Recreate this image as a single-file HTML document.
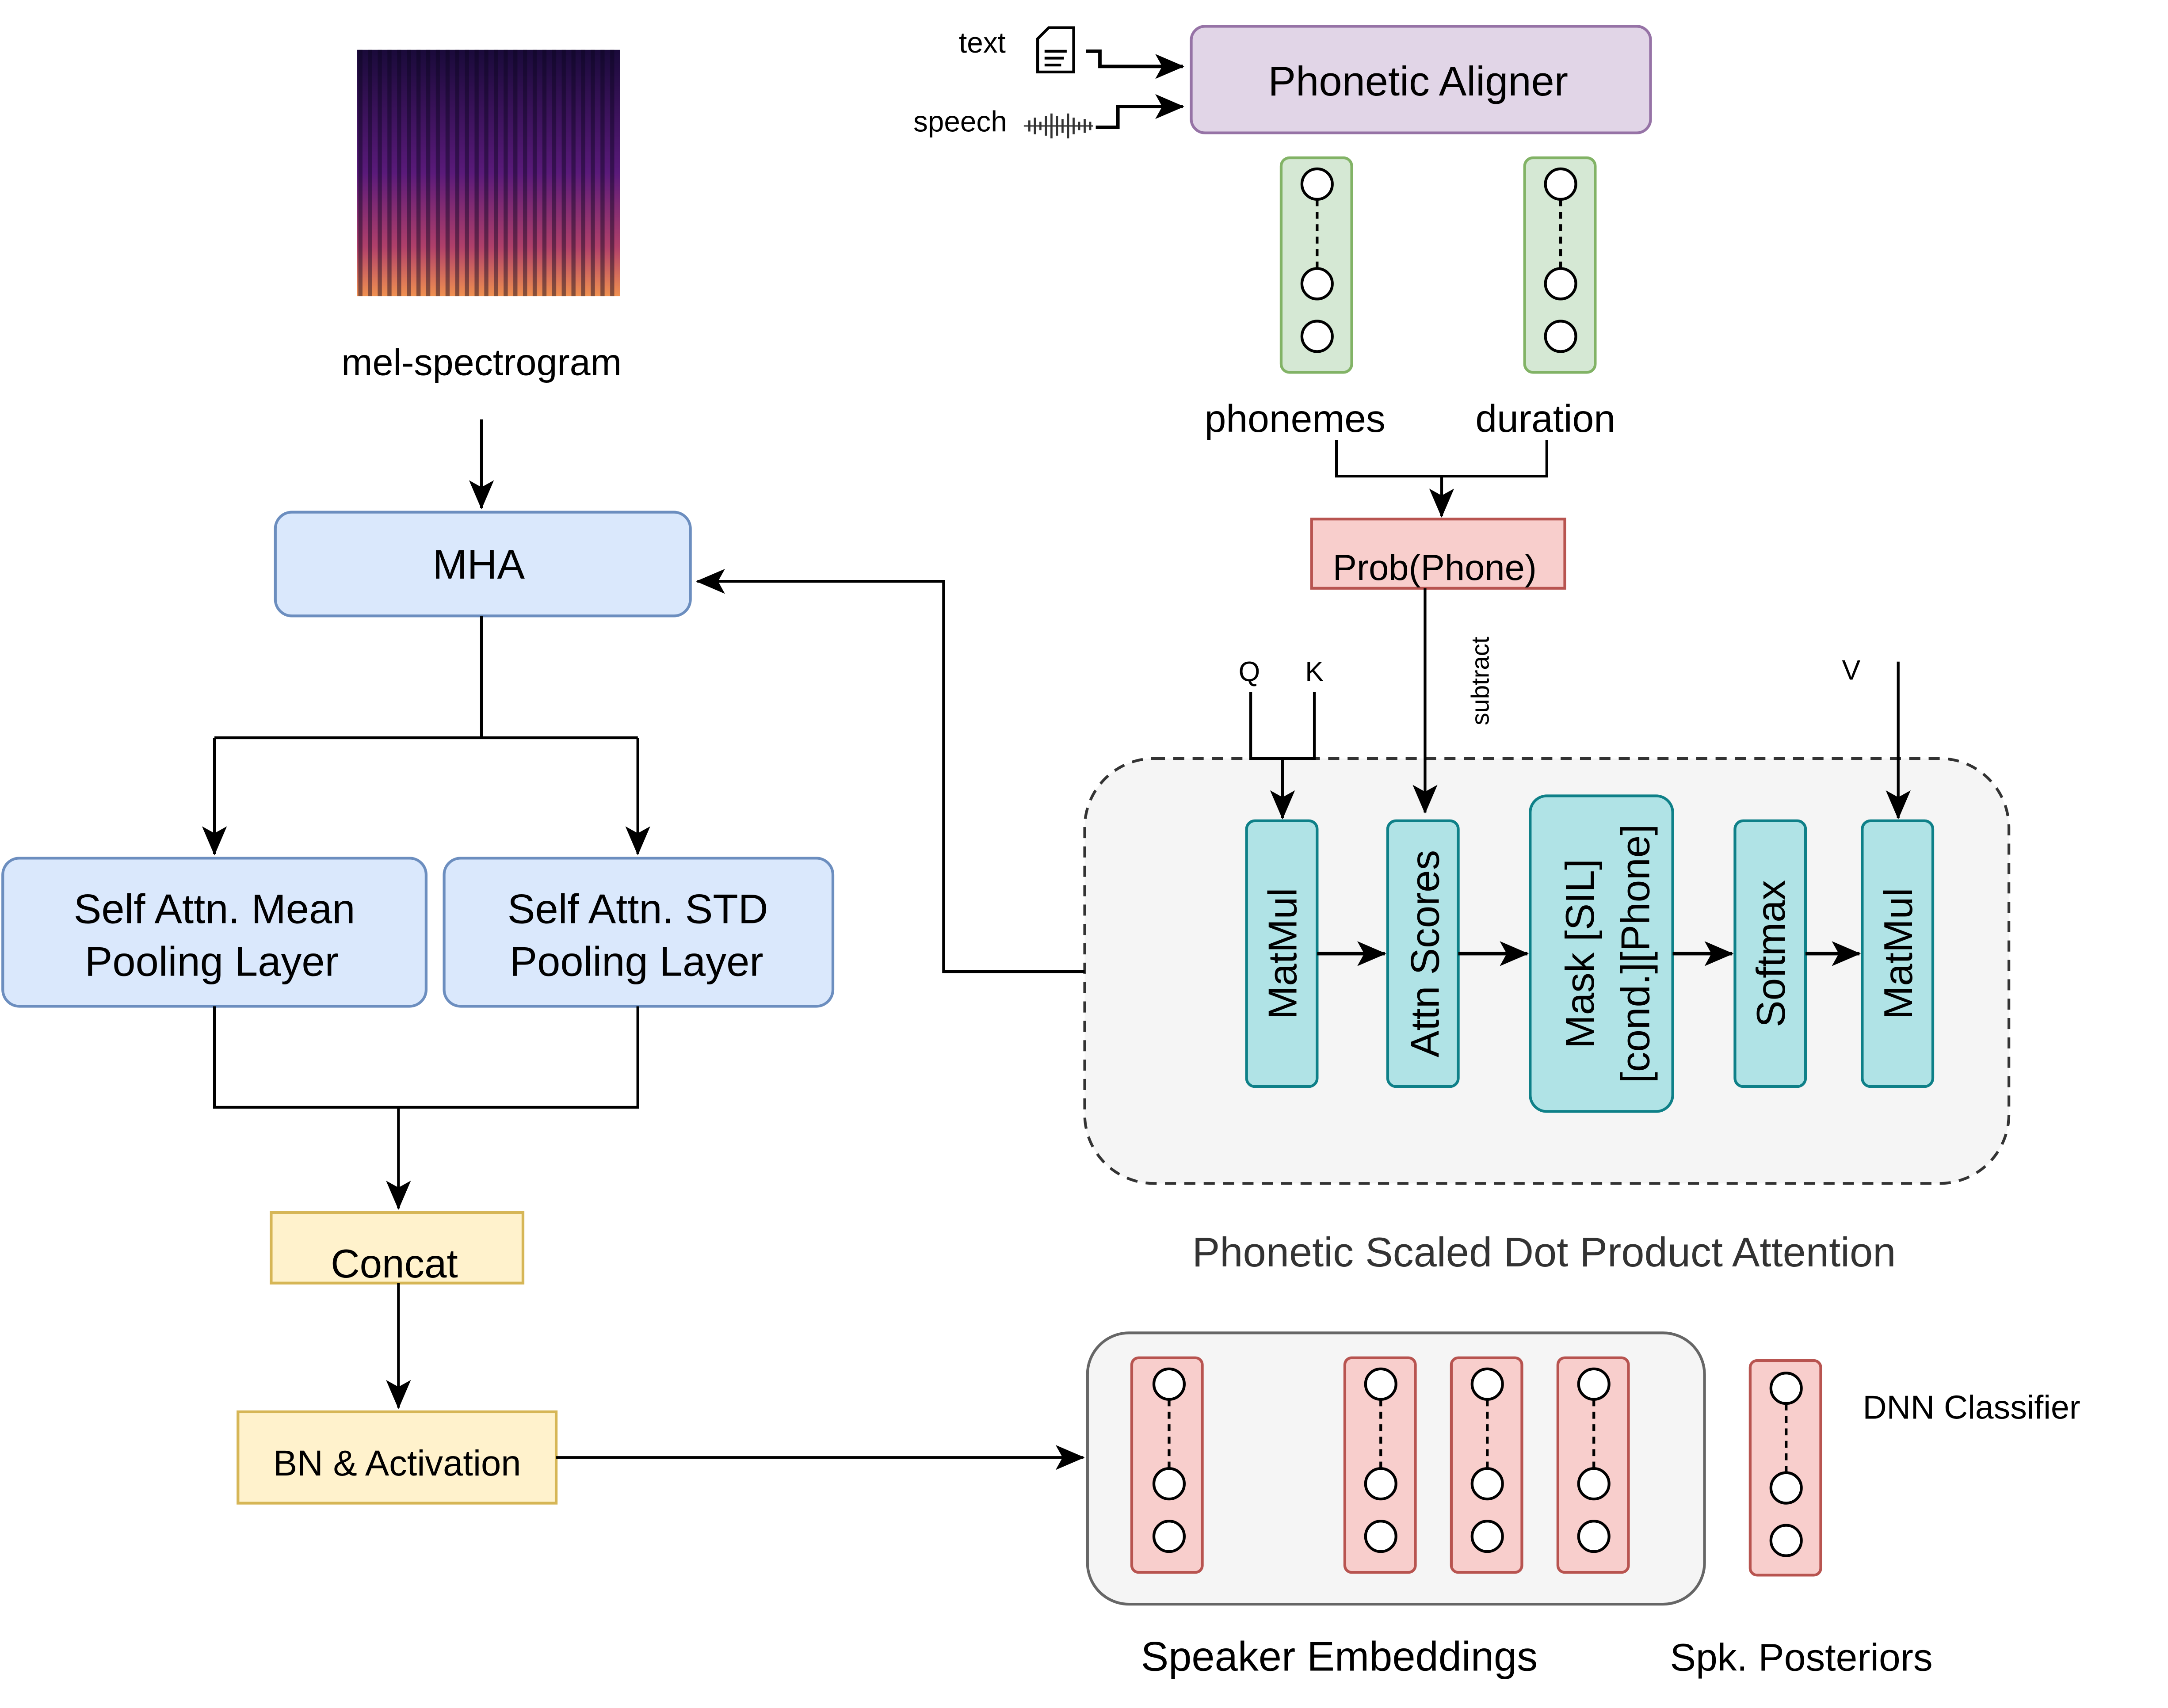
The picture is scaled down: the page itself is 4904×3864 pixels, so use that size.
<!DOCTYPE html>
<html><head><meta charset="utf-8"><style>html,body{margin:0;padding:0;background:#fff}svg{display:block}text{font-family:"Liberation Sans",sans-serif}</style></head><body>
<svg width="4904" height="3864" viewBox="0 0 1567 1234" preserveAspectRatio="none" xmlns="http://www.w3.org/2000/svg">
<defs>
<marker id="b" markerWidth="22" markerHeight="22" refX="20" refY="11" orient="auto" markerUnits="userSpaceOnUse"><path d="M0,2 L21,11 L0,20 L5,11 Z" fill="#000"/></marker>
<linearGradient id="sg" x1="0" y1="0" x2="0" y2="1"><stop offset="0" stop-color="#1a0a3a"/><stop offset="0.5" stop-color="#5a1a7a"/><stop offset="0.8" stop-color="#b0406a"/><stop offset="1" stop-color="#f09050"/></linearGradient>
<pattern id="st" width="7" height="178" patternUnits="userSpaceOnUse"><rect width="3" height="178" fill="#0a0520" opacity="0.45"/></pattern>
</defs>
<rect x="258" y="36" width="190" height="178" fill="url(#sg)"/>
<rect x="258" y="36" width="190" height="178" fill="url(#st)"/>
<text x="348" y="271" font-size="27" text-anchor="middle">mel-spectrogram</text>
<line x1="348" y1="303" x2="348" y2="367" stroke="#000" stroke-width="2" marker-end="url(#b)"/>

<text x="710" y="38" font-size="21" text-anchor="middle">text</text>
<path d="M758,20 h18 v32 h-26 v-24 z" fill="#fff" stroke="#000" stroke-width="2"/>
<path d="M755,37 h16 M755,42 h14 M755,47 h12" stroke="#000" stroke-width="2"/>
<text x="694" y="95" font-size="21" text-anchor="middle">speech</text>
<path d="M740,91 h50" stroke="#333" stroke-width="1"/>
<g stroke="#333" stroke-width="1.5"><path d="M744,87v8M748,85v12M752,88v6M756,84v14M760,82v18M764,84v14M768,86v10M772,82v18M776,85v12M780,88v6M784,86v10M788,88v6"/></g>
<path d="M785,37 H795 V48 H855" fill="none" stroke="#000" stroke-width="2.5" marker-end="url(#b)"/>
<path d="M792,92 H808 V77 H855" fill="none" stroke="#000" stroke-width="2.5" marker-end="url(#b)"/>
<rect x="861" y="19" width="332" height="77" rx="10" fill="#e1d5e7" stroke="#9673a6" stroke-width="2"/>
<text x="1025" y="69" font-size="30" text-anchor="middle">Phonetic Aligner</text>

<g stroke="#82b366" stroke-width="2" fill="#d5e8d4"><rect x="926" y="114" width="51" height="155" rx="6"/><rect x="1102" y="114" width="51" height="155" rx="6"/></g>
<g fill="#fff" stroke="#000" stroke-width="2"><circle cx="952" cy="133" r="11"/><circle cx="952" cy="205" r="11"/><circle cx="952" cy="243" r="11"/><circle cx="1128" cy="133" r="11"/><circle cx="1128" cy="205" r="11"/><circle cx="1128" cy="243" r="11"/></g>
<path d="M952,144 V194 M1128,144 V194" stroke="#000" stroke-width="2" stroke-dasharray="5,4"/>
<text x="936" y="312" font-size="28" text-anchor="middle">phonemes</text>
<text x="1117" y="312" font-size="28" text-anchor="middle">duration</text>
<path d="M966,318 V344 H1118 V318" fill="none" stroke="#000" stroke-width="2"/>
<line x1="1042" y1="344" x2="1042" y2="373" stroke="#000" stroke-width="2" marker-end="url(#b)"/>
<rect x="948" y="375" width="183" height="50" fill="#f8cecc" stroke="#b85450" stroke-width="2"/>
<text x="1037" y="419" font-size="26" text-anchor="middle">Prob(Phone)</text>

<rect x="784" y="548" width="668" height="307" rx="50" fill="#f5f5f5" stroke="#333" stroke-width="2" stroke-dasharray="8,6"/>
<line x1="1030" y1="425" x2="1030" y2="587" stroke="#000" stroke-width="2" marker-end="url(#b)"/>
<text transform="translate(1076,492) rotate(-90)" font-size="18" text-anchor="middle">subtract</text>
<text x="903" y="492" font-size="20" text-anchor="middle">Q</text>
<text x="950" y="492" font-size="20" text-anchor="middle">K</text>
<text x="1338" y="491" font-size="20" text-anchor="middle">V</text>
<path d="M904,500 V548 H950 V500" fill="none" stroke="#000" stroke-width="2"/>
<line x1="927" y1="548" x2="927" y2="591" stroke="#000" stroke-width="2" marker-end="url(#b)"/>
<line x1="1372" y1="478" x2="1372" y2="591" stroke="#000" stroke-width="2" marker-end="url(#b)"/>

<g fill="#b0e3e6" stroke="#0e8088" stroke-width="2">
<rect x="901" y="593" width="51" height="192" rx="6"/><rect x="1003" y="593" width="51" height="192" rx="6"/>
<rect x="1106" y="575" width="103" height="228" rx="12"/><rect x="1254" y="593" width="51" height="192" rx="6"/><rect x="1346" y="593" width="51" height="192" rx="6"/></g>
<g font-size="29" text-anchor="middle">
<text transform="translate(937,689) rotate(-90)">MatMul</text>
<text transform="translate(1040,689) rotate(-90)">Attn Scores</text>
<text transform="translate(1152,689) rotate(-90)">Mask [SIL]</text>
<text transform="translate(1192,689) rotate(-90)">[cond.][Phone]</text>
<text transform="translate(1290,689) rotate(-90)">Softmax</text>
<text transform="translate(1382,689) rotate(-90)">MatMul</text></g>
<g stroke="#000" stroke-width="2.5"><line x1="952" y1="689" x2="1001" y2="689" marker-end="url(#b)"/><line x1="1054" y1="689" x2="1104" y2="689" marker-end="url(#b)"/><line x1="1209" y1="689" x2="1252" y2="689" marker-end="url(#b)"/><line x1="1305" y1="689" x2="1344" y2="689" marker-end="url(#b)"/></g>
<path d="M784,702 H682 V420 H504" fill="none" stroke="#000" stroke-width="2" marker-end="url(#b)"/>
<text x="1116" y="915" font-size="30" text-anchor="middle" fill="#333">Phonetic Scaled Dot Product Attention</text>

<rect x="199" y="370" width="300" height="75" rx="12" fill="#dae8fc" stroke="#6c8ebf" stroke-width="2"/>
<text x="346" y="418" font-size="30" text-anchor="middle">MHA</text>
<path d="M348,445 V533 M155,533 H461" stroke="#000" stroke-width="2"/>
<line x1="155" y1="533" x2="155" y2="617" stroke="#000" stroke-width="2" marker-end="url(#b)"/>
<line x1="461" y1="533" x2="461" y2="617" stroke="#000" stroke-width="2" marker-end="url(#b)"/>
<rect x="2" y="620" width="306" height="107" rx="12" fill="#dae8fc" stroke="#6c8ebf" stroke-width="2"/>
<rect x="321" y="620" width="281" height="107" rx="12" fill="#dae8fc" stroke="#6c8ebf" stroke-width="2"/>
<g font-size="30" text-anchor="middle"><text x="155" y="667">Self Attn. Mean</text><text x="153" y="705">Pooling Layer</text><text x="461" y="667">Self Attn. STD</text><text x="460" y="705">Pooling Layer</text></g>
<path d="M155,727 V800 H461 V727" fill="none" stroke="#000" stroke-width="2"/>
<line x1="288" y1="800" x2="288" y2="873" stroke="#000" stroke-width="2" marker-end="url(#b)"/>
<rect x="196" y="876" width="182" height="51" fill="#fff2cc" stroke="#d6b656" stroke-width="2"/>
<text x="285" y="923" font-size="29" text-anchor="middle">Concat</text>
<line x1="288" y1="927" x2="288" y2="1017" stroke="#000" stroke-width="2" marker-end="url(#b)"/>
<rect x="172" y="1020" width="230" height="66" fill="#fff2cc" stroke="#d6b656" stroke-width="2"/>
<text x="287" y="1066" font-size="26" text-anchor="middle">BN &amp; Activation</text>
<line x1="402" y1="1053" x2="783" y2="1053" stroke="#000" stroke-width="2" marker-end="url(#b)"/>

<rect x="786" y="963" width="446" height="196" rx="30" fill="#f5f5f5" stroke="#666" stroke-width="2"/>
<g fill="#f8cecc" stroke="#b85450" stroke-width="2"><rect x="818" y="981" width="51" height="155" rx="5"/><rect x="972" y="981" width="51" height="155" rx="5"/><rect x="1049" y="981" width="51" height="155" rx="5"/><rect x="1126" y="981" width="51" height="155" rx="5"/><rect x="1265" y="983" width="51" height="155" rx="5"/></g>
<g fill="#fff" stroke="#000" stroke-width="2">
<circle cx="845" cy="1000" r="11"/><circle cx="845" cy="1072" r="11"/><circle cx="845" cy="1110" r="11"/>
<circle cx="998" cy="1000" r="11"/><circle cx="998" cy="1072" r="11"/><circle cx="998" cy="1110" r="11"/>
<circle cx="1075" cy="1000" r="11"/><circle cx="1075" cy="1072" r="11"/><circle cx="1075" cy="1110" r="11"/>
<circle cx="1152" cy="1000" r="11"/><circle cx="1152" cy="1072" r="11"/><circle cx="1152" cy="1110" r="11"/>
<circle cx="1291" cy="1003" r="11"/><circle cx="1291" cy="1075" r="11"/><circle cx="1291" cy="1113" r="11"/></g>
<path d="M845,1011V1061M998,1011V1061M1075,1011V1061M1152,1011V1061M1291,1014V1064" stroke="#000" stroke-width="2" stroke-dasharray="5,4"/>
<text x="1425" y="1025" font-size="24" text-anchor="middle">DNN Classifier</text>
<text x="968" y="1207" font-size="30" text-anchor="middle">Speaker Embeddings</text>
<text x="1302" y="1207" font-size="28" text-anchor="middle">Spk. Posteriors</text>
</svg>
</body></html>
